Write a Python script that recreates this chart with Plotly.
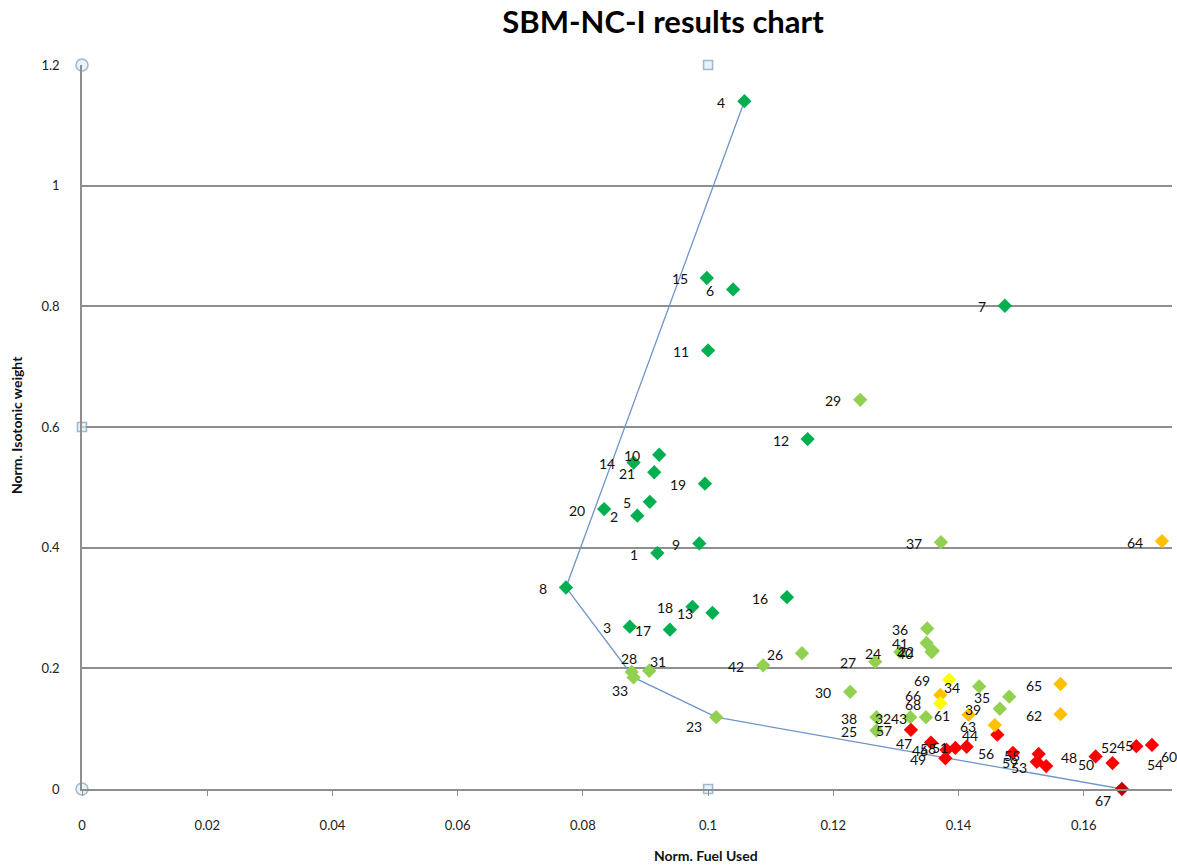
import plotly.graph_objects as go

# ---- data -------------------------------------------------------------
point_ids = list(range(1, 70))

fuel_used = [
    0.0919, 0.0887, 0.0875, 0.1058, 0.0907, 0.1040, 0.1474, 0.0773, 0.0986, 0.0922,
    0.1000, 0.1159, 0.1007, 0.0881, 0.0998, 0.1126, 0.0939, 0.0975, 0.0995, 0.0834,
    0.0914, 0.1359, 0.1013, 0.1307, 0.1269, 0.1150, 0.1267, 0.0878, 0.1243, 0.1227,
    0.0906, 0.1323, 0.0881, 0.1433, 0.1481, 0.1350, 0.1372, 0.1269, 0.1466, 0.1357,
    0.1349, 0.1088, 0.1348, 0.1462, 0.1709, 0.1381, 0.1356, 0.1619, 0.1379, 0.1646,
    0.1413, 0.1684, 0.1540, 0.1757, 0.1528, 0.1487, 0.1324, 0.1395, 0.1525, 0.1780,
    0.1416, 0.1563, 0.1458, 0.1725, 0.1563, 0.1371, 0.1661, 0.1371, 0.1385,
]

isotonic_weight = [
    0.391, 0.453, 0.269, 1.140, 0.476, 0.828, 0.801, 0.334, 0.407, 0.554,
    0.727, 0.580, 0.292, 0.541, 0.847, 0.318, 0.264, 0.302, 0.506, 0.464,
    0.525, 0.229, 0.119, 0.227, 0.097, 0.225, 0.211, 0.194, 0.645, 0.161,
    0.196, 0.119, 0.185, 0.170, 0.153, 0.266, 0.409, 0.119, 0.133, 0.227,
    0.242, 0.205, 0.119, 0.090, 0.073, 0.065, 0.077, 0.054, 0.051, 0.043,
    0.070, 0.071, 0.038, 0.043, 0.058, 0.060, 0.098, 0.068, 0.045, 0.056,
    0.123, 0.124, 0.106, 0.411, 0.174, 0.156, 0.000, 0.142, 0.181,
]

group = (
    [1] * 21 +          # points 1-21
    [2] * 22 +          # points 22-43
    [3] * 17 +          # points 44-60
    [4] * 6 +           # points 61-66
    [5] +               # point 67
    [6] * 2             # points 68-69
)

frontier_ids = [4, 8, 33, 23, 67]

x_ticks = [0, 0.02, 0.04, 0.06, 0.08, 0.1, 0.12, 0.14, 0.16]
y_ticks = [0, 0.2, 0.4, 0.6, 0.8, 1, 1.2]

# selection handles on the axis frame
handle_x = [0, 0, 0.1, 0.1, 0]
handle_y = [0, 1.2, 1.2, 0, 0.6]
handle_symbol = ["circle", "circle", "square", "square", "square"]

# ---- style ------------------------------------------------------------
W, H = 1177, 866
M_L, M_R, M_T, M_B = 82, 5, 65, 77
X_MAX = 0.1741
Y_MAX = 1.2

group_colors = {1: "#00B050", 2: "#92D050", 3: "#FF0000",
                4: "#FFC000", 5: "#C00000", 6: "#FFFF00"}

FONT = "Lato, 'Open Sans', sans-serif"
GRID = "#8e8e8e"

# label offsets (pixels) for points whose label is not to the left
label_shift = {
    28: (-3, 13),
    31: (9, 9),
    33: (-14, -13),
    23: (-22, -9),
    67: (-19, -11),
}

fig = go.Figure()

# frontier line
lookup = {pid: (fx, wy) for pid, fx, wy in zip(point_ids, fuel_used, isotonic_weight)}
fig.add_trace(go.Scatter(
    x=[lookup[p][0] for p in frontier_ids],
    y=[lookup[p][1] for p in frontier_ids],
    mode="lines",
    line=dict(color="#6F95C9", width=1.3),
    hoverinfo="skip",
    cliponaxis=False,
))

# markers per group
for g, col in group_colors.items():
    xs = [fx for fx, gg in zip(fuel_used, group) if gg == g]
    ys = [wy for wy, gg in zip(isotonic_weight, group) if gg == g]
    ids = [p for p, gg in zip(point_ids, group) if gg == g]
    fig.add_trace(go.Scatter(
        x=xs, y=ys, mode="markers",
        marker=dict(symbol="diamond", size=11, color=col, line=dict(width=0)),
        text=[str(i) for i in ids],
        hovertemplate="%{text}: (%{x}, %{y})<extra></extra>",
        cliponaxis=False,
    ))

# frame handles
fig.add_trace(go.Scatter(
    x=handle_x, y=handle_y, mode="markers",
    marker=dict(symbol=handle_symbol,
                size=[12, 12, 9, 9, 9],
                color="#DCEFF5",
                line=dict(color="#7C9AB8", width=1.5)),
    hoverinfo="skip",
    cliponaxis=False,
))

annotations = []
for pid, fx, wy in zip(point_ids, fuel_used, isotonic_weight):
    if pid in label_shift:
        dx, dy = label_shift[pid]
        anchor = "center"
    else:
        dx, dy = -17, -1
        anchor = "right"
    annotations.append(dict(
        x=fx / X_MAX, xref="paper", y=wy, yref="y",
        text=str(pid), showarrow=False,
        xanchor=anchor, yanchor="middle",
        xshift=dx, yshift=dy,
        font=dict(family=FONT, size=14, color="#111111"),
    ))

plot_w = W - M_L - M_R
plot_h = H - M_T - M_B

# axis titles
annotations.append(dict(
    text="<b>Norm. Isotonic weight</b>", textangle=-90,
    x=(17 - M_L) / plot_w, xref="paper", y=(789 - 425) / plot_h, yref="paper",
    showarrow=False, xanchor="center", yanchor="middle",
    font=dict(family=FONT, size=14, color="#111111"),
))
annotations.append(dict(
    text="<b>Norm. Fuel Used</b>",
    x=(706 - M_L) / plot_w, xref="paper", y=(789 - 855) / plot_h, yref="paper",
    showarrow=False, xanchor="center", yanchor="middle",
    font=dict(family=FONT, size=14, color="#111111"),
))

fig.update_layout(
    width=W, height=H,
    margin=dict(l=M_L, r=M_R, t=M_T, b=M_B, pad=0),
    paper_bgcolor="white", plot_bgcolor="white",
    showlegend=False,
    title=dict(text="<b>SBM-NC-I results chart</b>",
               x=663 / W, xanchor="center",
               y=1 - 22 / H, yanchor="middle",
               font=dict(family=FONT, size=31, color="#000000")),
    annotations=annotations,
    xaxis=dict(
        range=[0, X_MAX], tickvals=x_ticks, ticktext=[f"{v:g}" for v in x_ticks],
        showgrid=False, zeroline=False,
        showline=True, linecolor=GRID, linewidth=1.5,
        ticks="outside", ticklen=5, tickcolor=GRID, tickwidth=1.2,
        ticklabelstandoff=19,
        tickfont=dict(family=FONT, size=13, color="#222222"),
    ),
    yaxis=dict(
        range=[0, Y_MAX], tickvals=y_ticks, ticktext=[f"{v:g}" for v in y_ticks],
        showgrid=True, gridcolor=GRID, gridwidth=1.5,
        zeroline=False,
        showline=True, linecolor=GRID, linewidth=1.5,
        ticks="", ticklabelstandoff=18,
        tickfont=dict(family=FONT, size=13, color="#222222"),
    ),
)

fig.write_html("out.html")
